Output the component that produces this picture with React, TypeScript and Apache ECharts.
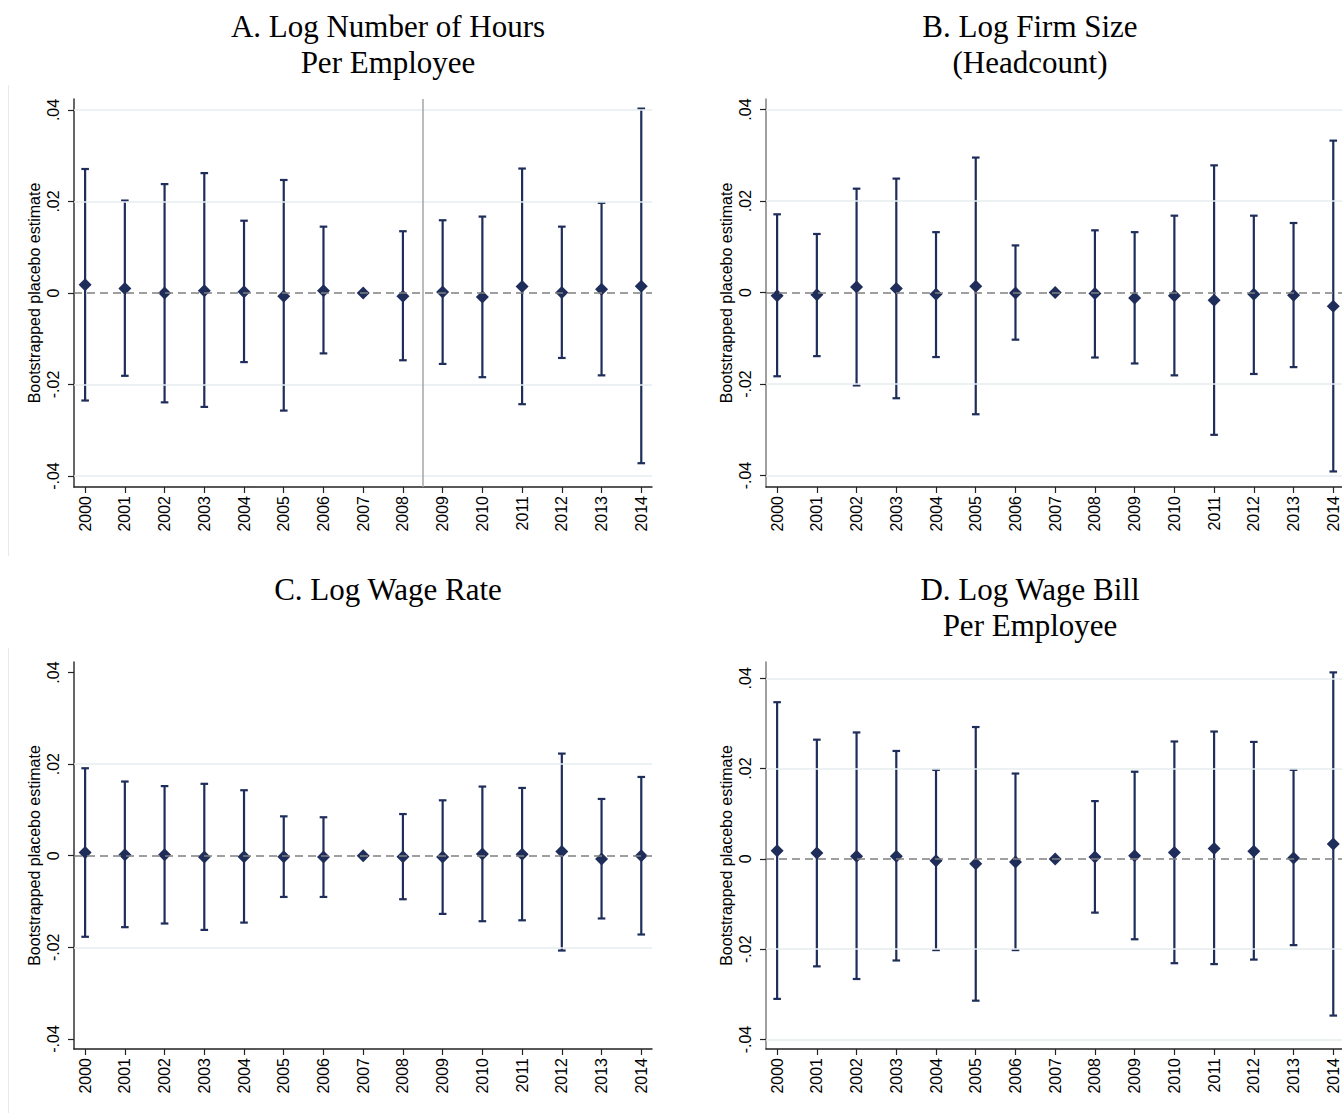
import React, { useEffect, useRef } from "react";
import * as echarts from "echarts";

const years = [2000, 2001, 2002, 2003, 2004, 2005, 2006, 2007, 2008, 2009, 2010, 2011, 2012, 2013, 2014];
const yTicks = [-0.04, -0.02, 0, 0.02, 0.04];

// A. Log Number of Hours Per Employee
const hoursEst = [0.0018, 0.001, 0.0, 0.0005, 0.0003, -0.0007, 0.0005, 0.0, -0.0007, 0.0002, -0.0009, 0.0014, 0.0001, 0.0008, 0.0015];
const hoursLo = [-0.0235, -0.0181, -0.0239, -0.0249, -0.0151, -0.0257, -0.0132, null, -0.0147, -0.0155, -0.0184, -0.0243, -0.0142, -0.018, -0.0372];
const hoursHi = [0.0271, 0.0202, 0.0238, 0.0262, 0.0158, 0.0247, 0.0145, null, 0.0135, 0.0159, 0.0167, 0.0272, 0.0145, 0.0197, 0.0403];

// B. Log Firm Size (Headcount)
const sizeEst = [-0.0007, -0.0005, 0.0012, 0.0009, -0.0004, 0.0014, -0.0001, 0.0, -0.0002, -0.0012, -0.0007, -0.0017, -0.0004, -0.0006, -0.003];
const sizeLo = [-0.0183, -0.0139, -0.0203, -0.0231, -0.0141, -0.0266, -0.0103, null, -0.0142, -0.0155, -0.0181, -0.0311, -0.0178, -0.0163, -0.0391];
const sizeHi = [0.0171, 0.0128, 0.0227, 0.0249, 0.0132, 0.0295, 0.0103, null, 0.0136, 0.0132, 0.0168, 0.0278, 0.0168, 0.0152, 0.0332];

// C. Log Wage Rate
const rateEst = [0.0007, 0.0002, 0.0002, -0.0003, -0.0002, -0.0002, -0.0003, 0.0, -0.0002, -0.0003, 0.0004, 0.0003, 0.0009, -0.0007, 0.0];
const rateLo = [-0.0177, -0.0156, -0.0148, -0.0162, -0.0146, -0.009, -0.009, null, -0.0095, -0.0127, -0.0143, -0.0141, -0.0207, -0.0137, -0.0172];
const rateHi = [0.0191, 0.0162, 0.0152, 0.0157, 0.0143, 0.0086, 0.0084, null, 0.0091, 0.0121, 0.0151, 0.0148, 0.0223, 0.0124, 0.0172];

// D. Log Wage Bill Per Employee
const billEst = [0.0018, 0.0013, 0.0006, 0.0006, -0.0004, -0.0011, -0.0007, 0.0, 0.0004, 0.0007, 0.0014, 0.0023, 0.0017, 0.0002, 0.0033];
const billLo = [-0.031, -0.0238, -0.0266, -0.0225, -0.0202, -0.0314, -0.0202, null, -0.0119, -0.0178, -0.0231, -0.0233, -0.0223, -0.0191, -0.0347];
const billHi = [0.0347, 0.0264, 0.028, 0.0239, 0.0197, 0.0292, 0.0189, null, 0.0128, 0.0193, 0.026, 0.0282, 0.0259, 0.0197, 0.0413];

const NAVY = "#1e2d5a";
const SANS = "'Liberation Sans', Arial, Helvetica, sans-serif";
const SERIF = "'Liberation Serif', 'Times New Roman', serif";

const panels = [
  { est: hoursEst, lo: hoursLo, hi: hoursHi, left: 74, top: 99, height: 388, yMin: -0.0424, yMax: 0.0424, axisColor: "#333", grid: [-0.04, -0.02, 0.02, 0.04], vline: 2008.5, title: ["A. Log Number of Hours", "Per Employee"], tx: 388, ty: 26 },
  { est: sizeEst, lo: sizeLo, hi: sizeHi, left: 766, top: 99, height: 388, yMin: -0.0425, yMax: 0.0423, axisColor: "#808080", grid: [-0.04, -0.02, 0.02, 0.04], vline: null, title: ["B. Log Firm Size", "(Headcount)"], tx: 1030, ty: 26 },
  { est: rateEst, lo: rateLo, hi: rateHi, left: 74, top: 662, height: 387, yMin: -0.0422, yMax: 0.0423, axisColor: "#333", grid: [-0.02, 0.02], vline: null, title: ["C. Log Wage Rate"], tx: 388, ty: 589 },
  { est: billEst, lo: billLo, hi: billHi, left: 766, top: 662, height: 387, yMin: -0.0421, yMax: 0.0436, axisColor: "#808080", grid: [-0.04, -0.02, 0.02, 0.04], vline: null, title: ["D. Log Wage Bill", "Per Employee"], tx: 1030, ty: 589 },
];

const fmtY = (v: number) => {
  if (Math.abs(v) < 1e-9) return "0";
  const s = Math.abs(v).toFixed(2).replace(/^0/, "");
  return (v < 0 ? "-" : "") + s;
};

export default function App() {
  const ref = useRef<HTMLDivElement>(null);
  useEffect(() => {
    document.body.style.margin = "0";
    const chart = echarts.init(ref.current!, null, { renderer: "svg" });
    const grids: any[] = [];
    const xAxes: any[] = [];
    const yAxes: any[] = [];
    const series: any[] = [];
    const graphics: any[] = [];

    panels.forEach((p, i) => {
      grids.push({ left: p.left, top: p.top, width: 578, height: p.height, containLabel: false, outerBoundsMode: "none" });
      xAxes.push({
        type: "value", gridIndex: i, min: 1999.72, max: 2014.27,
        axisLine: { show: true, onZero: false, lineStyle: { color: "#222", width: 1.5 } },
        axisTick: { show: true, customValues: years, length: 6, lineStyle: { color: "#222", width: 1.2 } },
        axisLabel: { show: true, customValues: years, rotate: 90, margin: 9, fontSize: 16, fontFamily: SANS, color: "#000", formatter: (v: number) => String(v) },
        splitLine: { show: false },
      });
      yAxes.push({
        type: "value", gridIndex: i, min: p.yMin, max: p.yMax,
        name: "Bootstrapped placebo estimate", nameLocation: "middle", nameGap: 32, nameRotate: 90,
        nameTextStyle: { fontSize: 16, fontFamily: SANS, color: "#000" },
        axisLine: { show: true, onZero: false, lineStyle: { color: p.axisColor, width: 1.5 } },
        axisTick: { show: true, customValues: yTicks, length: 6, lineStyle: { color: "#222", width: 1.2 } },
        axisLabel: { show: true, customValues: yTicks, rotate: 90, margin: 13, fontSize: 16, fontFamily: SANS, color: "#000", formatter: fmtY },
        splitLine: { show: false },
      });

      const mlData: any[] = p.grid.map((g) => ({ yAxis: g, lineStyle: { color: "#e6eef1", width: 1.5, type: "solid" } }));
      mlData.push({ yAxis: 0, lineStyle: { color: "#808080", width: 1.5, type: [8, 5] } });
      if (p.vline != null) mlData.push({ xAxis: p.vline, lineStyle: { color: "#a6a6a6", width: 1.5, type: "solid" } });
      series.push({
        type: "line", xAxisIndex: i, yAxisIndex: i, data: [], z: 1, silent: true,
        markLine: { silent: true, symbol: ["none", "none"], label: { show: false }, animation: false, data: mlData },
      });

      const barData = years
        .map((y, k) => [y, p.lo[k], p.hi[k]])
        .filter((d) => d[1] != null && d[2] != null);
      series.push({
        type: "custom", xAxisIndex: i, yAxisIndex: i, z: 3, silent: true,
        encode: { x: 0, y: [1, 2] },
        data: barData,
        renderItem: (params: any, api: any) => {
          const x = api.value(0);
          const top = api.coord([x, api.value(2)]);
          const bot = api.coord([x, api.value(1)]);
          const cap = 3.8;
          const st = { stroke: NAVY, lineWidth: 2.2 };
          return {
            type: "group",
            children: [
              { type: "line", shape: { x1: top[0], y1: top[1], x2: bot[0], y2: bot[1] }, style: st },
              { type: "line", shape: { x1: top[0] - cap, y1: top[1], x2: top[0] + cap, y2: top[1] }, style: st },
              { type: "line", shape: { x1: bot[0] - cap, y1: bot[1], x2: bot[0] + cap, y2: bot[1] }, style: st },
            ],
          };
        },
      });
      series.push({
        type: "scatter", xAxisIndex: i, yAxisIndex: i, z: 4, silent: true,
        symbol: "diamond", symbolSize: [13, 13],
        itemStyle: { color: NAVY, opacity: 1 },
        data: years.map((y, k) => [y, p.est[k]]),
      });

      p.title.forEach((t, j) => {
        graphics.push({
          type: "text", x: p.tx, y: p.ty + j * 36,
          style: { text: t, font: `31px ${SERIF}`, fill: "#000", textAlign: "center", textVerticalAlign: "middle" },
        });
      });
    });

    // faint graph-region borders on the left panels
    graphics.push({ type: "line", shape: { x1: 8.5, y1: 85, x2: 8.5, y2: 556 }, style: { stroke: "#e3ebee", lineWidth: 1 } });
    graphics.push({ type: "line", shape: { x1: 8.5, y1: 648, x2: 8.5, y2: 1113 }, style: { stroke: "#e3ebee", lineWidth: 1 } });

    chart.setOption({
      animation: false,
      backgroundColor: "#fff",
      grid: grids,
      xAxis: xAxes,
      yAxis: yAxes,
      series,
      graphic: graphics,
    });
    return () => chart.dispose();
  }, []);
  return <div ref={ref} style={{ width: 1342, height: 1120, position: "absolute", left: 0, top: 0 }} />;
}
